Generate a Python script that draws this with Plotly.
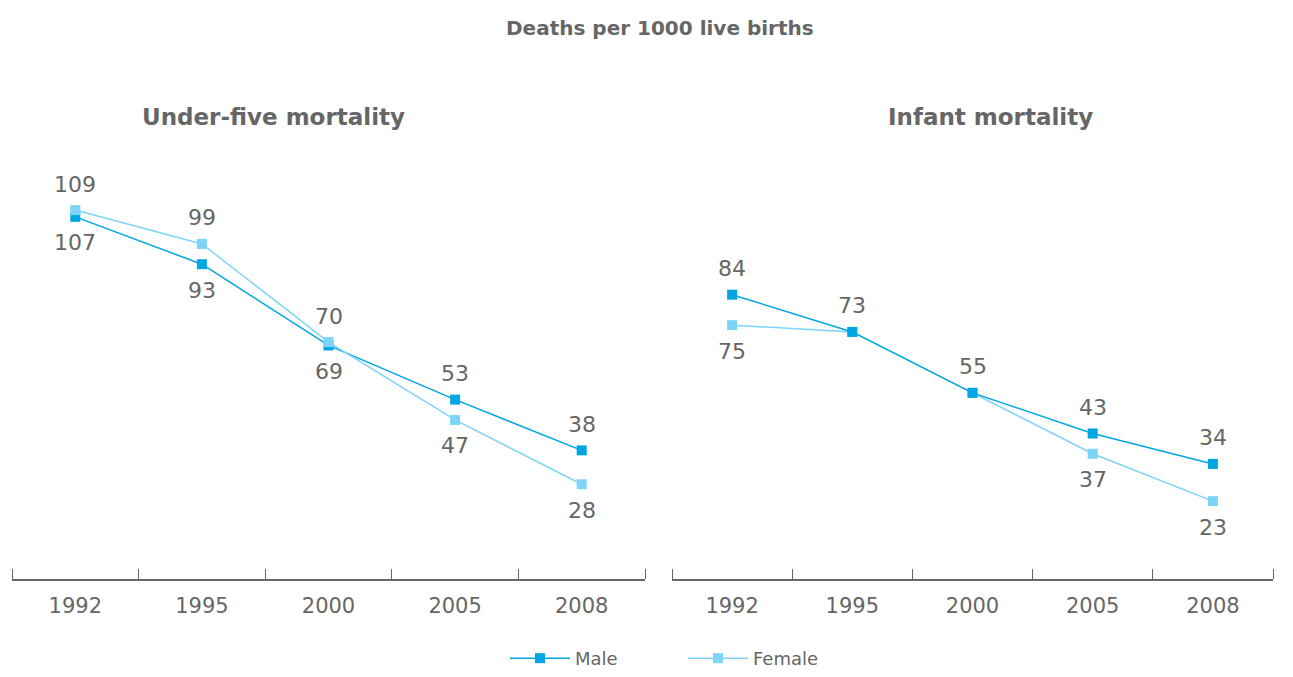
import plotly.graph_objects as go
from plotly.subplots import make_subplots

years = ["1992", "1995", "2000", "2005", "2008"]

u5_male = [107, 93, 69, 53, 38]
u5_female = [109, 99, 70, 47, 28]
inf_male = [84, 73, 55, 43, 34]
inf_female = [75, 73, 55, 37, 23]

# label placement: +1 above the marker, -1 below, 0 hidden
u5_male_pos = [-1, -1, -1, 1, 1]
u5_female_pos = [1, 1, 1, -1, -1]
inf_male_pos = [1, 1, 1, 1, 1]
inf_female_pos = [-1, 0, 0, -1, -1]

MALE = "#00A6E2"
FEMALE = "#7DD4F8"
GREY = "#666666"
FONT = "DejaVu Sans"

# page body has an 8px margin, so the figure starts at (8, 8) of the window
OFF = 8
# plot area in window pixels
LEFT, RIGHT, TOP, BOT = 12, 1273, 139, 579
W, H = 1293 - OFF, 677 - OFF

fig = make_subplots(rows=1, cols=2, horizontal_spacing=0.02)


def add_series(vals, name, color, col, showlegend):
    fig.add_trace(go.Scatter(
        x=years, y=vals, name=name, mode="lines+markers",
        line=dict(color=color, width=1.5),
        marker=dict(symbol="square", size=10, color=color),
        showlegend=showlegend, legendgroup=name,
    ), row=1, col=col)


def add_labels(vals, pos, col):
    xref = "x" if col == 1 else "x2"
    yref = "y" if col == 1 else "y2"
    for i, (v, p) in enumerate(zip(vals, pos)):
        if p == 0:
            continue
        # category axis: annotation x is the category index
        fig.add_annotation(x=i, y=v, xref=xref, yref=yref, text=str(v),
                           showarrow=False, yshift=26 * p,
                           font=dict(size=22, color=GREY, family=FONT))


add_series(u5_male, "Male", MALE, 1, True)
add_series(u5_female, "Female", FEMALE, 1, True)
add_series(inf_female, "Female", FEMALE, 2, False)
add_series(inf_male, "Male", MALE, 2, False)

add_labels(u5_male, u5_male_pos, 1)
add_labels(u5_female, u5_female_pos, 1)
add_labels(inf_male, inf_male_pos, 2)
add_labels(inf_female, inf_female_pos, 2)

n = len(years)
dom1 = [0, (645 - LEFT) / (RIGHT - LEFT)]
dom2 = [(672 - LEFT) / (RIGHT - LEFT), 1]

axis_x = dict(type="category", range=[-0.5, n - 0.5], ticks="",
              showline=True, linecolor=GREY, linewidth=1.5, showgrid=False,
              zeroline=False, ticklabelstandoff=7, automargin=False,
              tickfont=dict(size=21, color=GREY, family=FONT))
axis_y = dict(visible=False, range=[0, 130], showgrid=False, automargin=False)

# overlay axes that only draw the boundary ticks (including both ends):
# a "top" axis sitting on the bottom edge, so outside ticks point upward
bounds = [i - 0.5 for i in range(n + 1)]
tick_axis = dict(range=[-0.5, n - 0.5], tickvals=bounds, ticks="outside",
                 ticklen=10, tickcolor=GREY, tickwidth=1.2, side="top",
                 anchor="free", position=0,
                 showticklabels=False, showline=False, showgrid=False,
                 zeroline=False, automargin=False)

fig.update_xaxes(**axis_x)
fig.update_yaxes(**axis_y)
fig.update_layout(
    xaxis=dict(domain=dom1),
    xaxis2=dict(domain=dom2),
    xaxis3=dict(overlaying="x", domain=dom1, **tick_axis),
    xaxis4=dict(overlaying="x2", domain=dom2, **tick_axis),
)
# empty traces so the tick-only axes get drawn
for xa, ya in [("x3", "y"), ("x4", "y2")]:
    fig.add_trace(go.Scatter(x=[], y=[], xaxis=xa, yaxis=ya,
                             showlegend=False, hoverinfo="skip"))


def px(pix):
    return (pix - LEFT) / (RIGHT - LEFT)


def py(pix):
    return (BOT - pix) / (BOT - TOP)


fig.add_annotation(x=px(660), y=py(28), xref="paper", yref="paper",
                   showarrow=False, xanchor="center", yanchor="middle",
                   text="<b>Deaths per 1000 live births</b>",
                   font=dict(size=20, color=GREY, family=FONT))
for xp, t in [(273, "Under-five mortality"), (990, "Infant mortality")]:
    fig.add_annotation(x=px(xp), y=py(117), xref="paper", yref="paper",
                       showarrow=False, xanchor="center", yanchor="middle",
                       text="<b>" + t + "</b>",
                       font=dict(size=23, color=GREY, family=FONT))

fig.update_layout(
    width=W, height=H,
    margin=dict(l=LEFT - OFF, r=W - (RIGHT - OFF), t=TOP - OFF,
                b=H - (BOT - OFF)),
    plot_bgcolor="white", paper_bgcolor="white",
    font=dict(family=FONT, color=GREY),
    legend=dict(orientation="h", x=px(505), xanchor="left",
                yref="container", y=0, yanchor="bottom",
                font=dict(size=18, color=GREY, family=FONT),
                itemwidth=60, entrywidth=103),
)

fig.write_html("out.html")
